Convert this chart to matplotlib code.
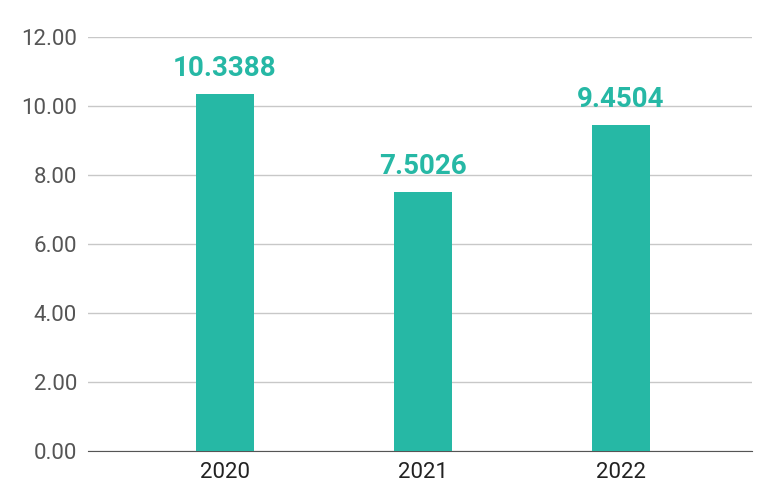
import matplotlib
matplotlib.use("Agg")
import matplotlib.pyplot as plt

years = ["2020", "2021", "2022"]
values = [10.3388, 7.5026, 9.4504]
labels = ["10.3388", "7.5026", "9.4504"]
yticks = [0, 2, 4, 6, 8, 10, 12]

plt.rcParams['font.family'] = ['Roboto', 'DejaVu Sans']
fig = plt.figure(figsize=(7.67, 5.04), dpi=100)
ax = fig.add_axes([0.115, 0.105, 0.865, 0.822])
x = list(range(len(years)))
color = "#26B8A5"
ax.bar(x, values, width=0.29, color=color, zorder=3)
for xi, v, l in zip(x, values, labels):
    ax.text(xi, v + 0.35, l, ha="center", va="bottom", color=color,
            fontsize=20, fontweight="bold", fontstretch="condensed")
ax.set_xlim(-0.69, 2.66)
ax.set_ylim(0, 12)
ax.set_yticks(yticks)
ax.set_yticklabels([f"{t:.2f}" for t in yticks])
ax.set_xticks(x)
ax.set_xticklabels(years)
ax.grid(axis="y", color="#c8c8c8", linewidth=1, zorder=0)
for s in ["top", "right", "left"]:
    ax.spines[s].set_visible(False)
ax.spines["bottom"].set_color("#555555")
ax.tick_params(axis="both", length=0, labelsize=16, colors="#555555", pad=8)
ax.tick_params(axis="x", labelcolor="#222222")
fig.savefig("out.png", dpi=100)
